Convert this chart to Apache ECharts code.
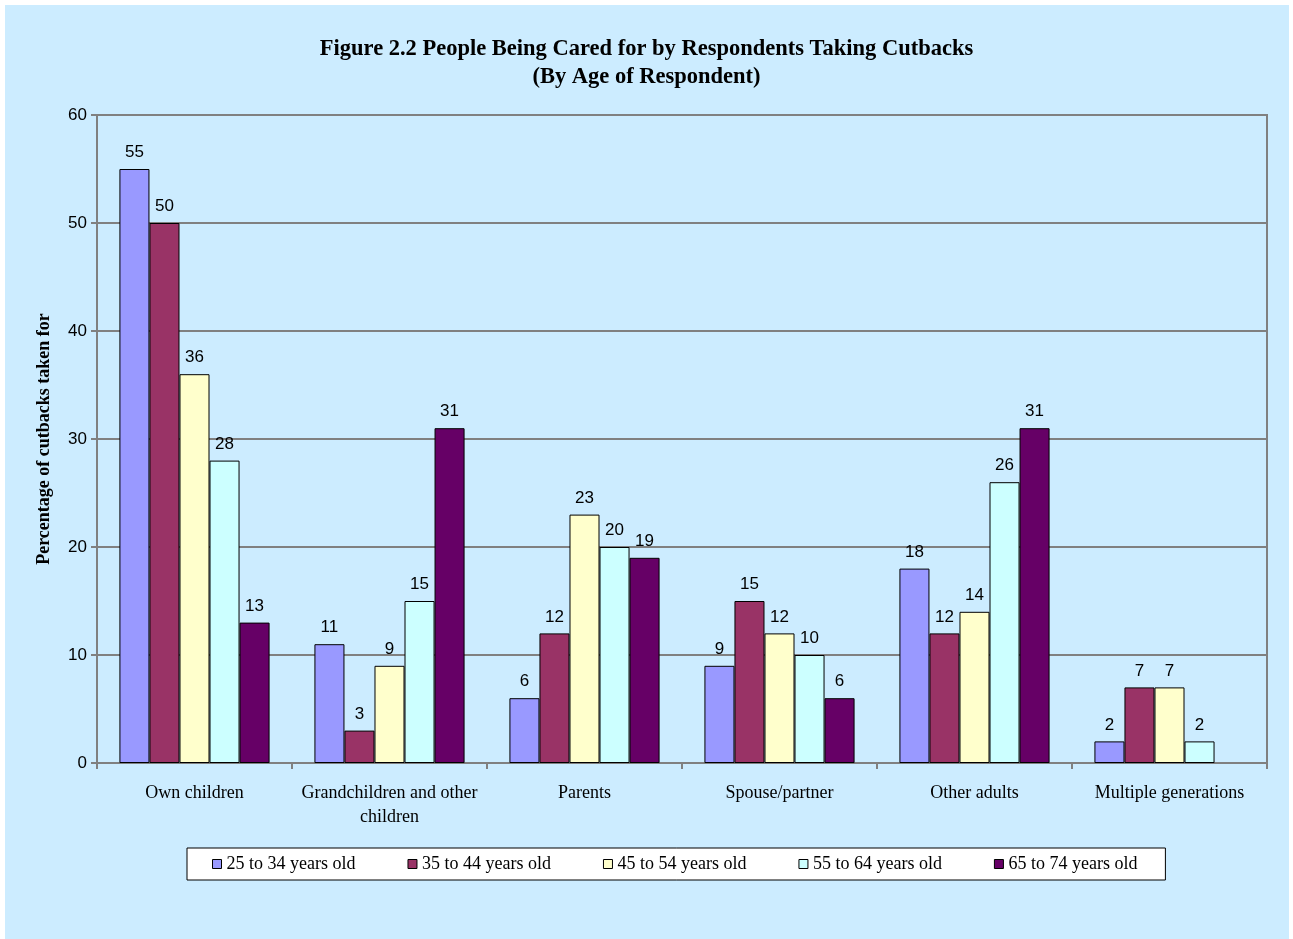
<!DOCTYPE html>
<html>
<head>
<meta charset="utf-8">
<script src="https://cdn.jsdelivr.net/npm/echarts@6/dist/echarts.min.js"></script>
<style>
  html, body { margin: 0; padding: 0; background: #ffffff; }
  #panel { position: absolute; left: 5px; top: 5px; width: 1284px; height: 934px; background: #CCECFF; }
  #chart { position: absolute; left: 0; top: 0; width: 1293px; height: 939px; }
</style>
</head>
<body>
<div id="panel"></div>
<div id="chart"></div>
<script>
// Care recipients of respondents taking cutbacks, by respondent age (percent)
const categories = ['Own children', 'Grandchildren and other\nchildren', 'Parents', 'Spouse/partner', 'Other adults', 'Multiple generations'];
const seriesNames = ['25 to 34 years old', '35 to 44 years old', '45 to 54 years old', '55 to 64 years old', '65 to 74 years old'];
const age25to34 = [55, 11, 6, 9, 18, 2];
const age35to44 = [50, 3, 12, 15, 12, 7];
const age45to54 = [36, 9, 23, 12, 14, 7];
const age55to64 = [28, 15, 20, 10, 26, 2];
const age65to74 = [13, 31, 19, 6, 31, null];
const yTicks = { min: 0, max: 60, interval: 10 };
const colors = ['#9999FF', '#993366', '#FFFFCC', '#CCFFFF', '#660066'];

const serif = "'Liberation Serif', 'Times New Roman', serif";
const sans = "'Liberation Sans', Arial, sans-serif";

const chart = echarts.init(document.getElementById('chart'), null, { renderer: 'canvas' });

const seriesData = [age25to34, age35to44, age45to54, age55to64, age65to74];

chart.setOption({
  backgroundColor: 'transparent',
  animation: false,
  title: {
    text: 'Figure 2.2 People Being Cared for by Respondents Taking Cutbacks\n(By Age of Respondent)',
    left: 'center',
    top: 30,
    textStyle: { fontFamily: serif, fontWeight: 'bold', fontSize: 22.5, color: '#000', lineHeight: 28 }
  },
  grid: {
    left: 97, top: 115, width: 1170, height: 648,
    show: true, borderColor: '#808080', borderWidth: 2, backgroundColor: 'transparent',
    containLabel: false
  },
  legend: {
    data: seriesNames,
    left: 187, top: 848,
    padding: [7, 28, 7, 25],
    itemGap: 52,
    itemWidth: 9, itemHeight: 9,
    icon: 'rect',
    backgroundColor: '#ffffff',
    borderColor: '#000000', borderWidth: 1,
    textStyle: { fontFamily: serif, fontSize: 18, color: '#000' },
    itemStyle: { borderColor: '#000', borderWidth: 1 }
  },
  xAxis: {
    type: 'category',
    data: categories,
    axisLine: { lineStyle: { color: '#808080', width: 2 } },
    axisTick: { show: true, length: 6, lineStyle: { color: '#808080', width: 2 } },
    axisLabel: { fontFamily: serif, fontSize: 18, color: '#000', margin: 18, lineHeight: 24, interval: 0 }
  },
  yAxis: {
    type: 'value',
    min: yTicks.min, max: yTicks.max, interval: yTicks.interval,
    name: 'Percentage of cutbacks taken for',
    nameLocation: 'middle',
    nameRotate: 90,
    nameGap: 44,
    nameTextStyle: { fontFamily: serif, fontWeight: 'bold', fontSize: 18, color: '#000' },
    axisLine: { show: true, lineStyle: { color: '#808080', width: 2 } },
    axisTick: { show: true, length: 6, lineStyle: { color: '#808080', width: 2 } },
    axisLabel: { fontFamily: sans, fontSize: 17, color: '#000', margin: 10 },
    splitLine: { show: true, lineStyle: { color: '#808080', width: 2 } }
  },
  series: seriesNames.map((name, i) => ({
    name,
    type: 'bar',
    data: seriesData[i],
    barGap: '0%',
    barCategoryGap: '23%',
    itemStyle: { color: colors[i], borderColor: '#000', borderWidth: 1 },
    label: {
      show: true, position: 'top', distance: 8,
      fontFamily: sans, fontSize: 17, color: '#000'
    }
  }))
});
</script>
</body>
</html>
